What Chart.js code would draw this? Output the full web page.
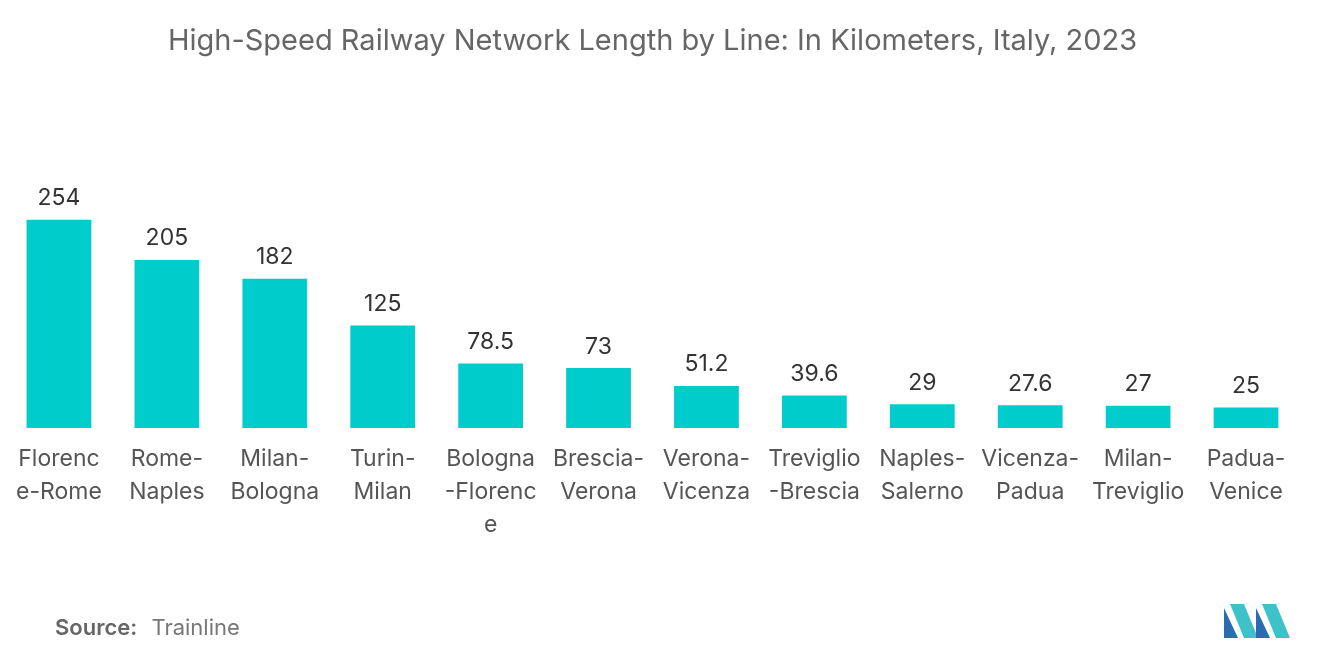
<!DOCTYPE html>
<html><head><meta charset="utf-8">
<script src="https://cdn.jsdelivr.net/npm/chart.js@4"></script>
<style>
body{margin:0;width:1320px;height:665px;background:#fff;font-family:Inter,"Noto Sans",sans-serif;overflow:hidden}
#wrap{position:absolute;left:0;top:0;width:1320px;height:665px}
#src{position:absolute;left:55px;top:614px;font-size:22px;color:#777}
#src b{font-weight:600;color:#666;margin-right:8px}
#logo{position:absolute;left:1224px;top:604px}
</style></head><body>
<div id="wrap"><canvas id="c"></canvas></div>
<div id="src"><b>Source:</b> Trainline</div>
<svg id="logo" width="66" height="34" viewBox="0 0 66 34">
<polygon points="0,34 0,4 14,34" fill="#2b6cb0"/><polygon points="6,0 20,0 34,34 20,34" fill="#3fc1c9"/>
<polygon points="32,34 32,4 46,34" fill="#2b6cb0"/><polygon points="38,0 52,0 66,34 52,34" fill="#3fc1c9"/>
</svg>
<script>
const categories = [["Florenc","e-Rome"],["Rome-","Naples"],["Milan-","Bologna"],["Turin-","Milan"],["Bologna","-Florenc","e"],["Brescia-","Verona"],["Verona-","Vicenza"],["Treviglio","-Brescia"],["Naples-","Salerno"],["Vicenza-","Padua"],["Milan-","Treviglio"],["Padua-","Venice"]];
const lengths = [254,205,182,125,78.5,73,51.2,39.6,29,27.6,27,25];

const valueLabels = {
  id:'valueLabels',
  afterDatasetsDraw(chart){
    const {ctx} = chart;
    const meta = chart.getDatasetMeta(0);
    ctx.save();
    ctx.font = '23px Inter, "Noto Sans", sans-serif';
    ctx.fillStyle = '#333';
    ctx.textAlign = 'center';
    ctx.textBaseline = 'bottom';
    meta.data.forEach((bar,i)=>ctx.fillText(String(lengths[i]), bar.x, bar.y-10));
    ctx.restore();
  }
};

new Chart(document.getElementById('c'),{
  type:'bar',
  data:{labels:categories,datasets:[{data:lengths,backgroundColor:'#00cccc',barPercentage:0.6,categoryPercentage:1}]},
  options:{
    responsive:true,maintainAspectRatio:false,animation:false,
    layout:{padding:{left:5,right:20,top:10,bottom:117}},
    plugins:{
      legend:{display:false},tooltip:{enabled:false},
      title:{display:true,text:'High-Speed Railway Network Length by Line: In Kilometers, Italy, 2023',color:'#666',font:{size:29,family:'Inter, "Noto Sans", sans-serif',weight:'normal'},padding:{top:14,bottom:20}}
    },
    scales:{
      x:{grid:{display:false},border:{display:false},ticks:{color:'#555',font:{size:23,family:'Inter, "Noto Sans", sans-serif',lineHeight:1.45},maxRotation:0,autoSkip:false,padding:6}},
      y:{display:false,min:0,max:426}
    }
  },
  plugins:[valueLabels]
});
</script>
</body></html>
